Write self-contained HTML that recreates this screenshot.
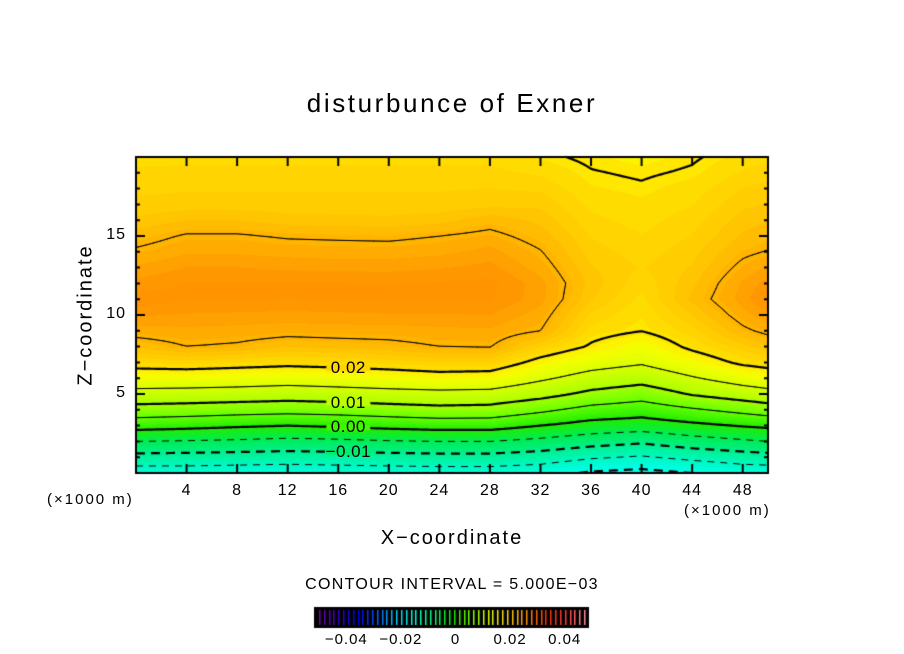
<!DOCTYPE html>
<html><head><meta charset="utf-8"><style>
html,body{margin:0;padding:0;background:#fff;}
#root{position:relative;width:904px;height:654px;overflow:hidden;font-family:"Liberation Sans",sans-serif;color:#000;}
.t{position:absolute;white-space:nowrap;}
canvas{position:absolute;left:0;top:0;}
</style></head><body>
<div id="root">
<canvas id="cv" width="904" height="654"></canvas>
<div class="t" style="left:0;width:904px;text-align:center;top:88px;font-size:26px;letter-spacing:2.6px;">disturbunce of Exner</div>
<div class="t" style="left:86px;top:315px;font-size:20px;transform:translate(-50%,-50%) rotate(-90deg);letter-spacing:2px;">Z−coordinate</div>
<div class="t" style="left:0;width:904px;text-align:center;top:527px;font-size:20px;letter-spacing:2px;">X−coordinate</div>
<div class="t" style="left:47px;top:491px;font-size:15px;letter-spacing:2px;">(×1000 m)</div>
<div class="t" style="left:684px;top:502px;font-size:15px;letter-spacing:2px;">(×1000 m)</div>
<div class="t" style="left:0;width:904px;text-align:center;top:576px;font-size:16px;letter-spacing:1.3px;">CONTOUR INTERVAL = 5.000E−03</div>
<div id="labels"></div>
</div>
<script>
// Grid data (values ×1e-3), rows = z (km), cols = x (km)
const xKm = [0,4,8,12,16,20,24,28,32,36,40,44,48,50];
const zKm = [0,1,2,3,4,5,6,7,8,9,10,11,12,13,14,15,16,17,18,19,20];
const field = [
[-17.7,-17.6,-17.9,-18.2,-17.9,-17.6,-17.4,-17.4,-18.2,-20.6,-21.5,-20,-18.2,-18.1],
[-11.6,-11.8,-12.1,-12.4,-12.1,-11.8,-11.5,-11.5,-12.4,-14.4,-15.5,-13.75,-12.4,-11.9],
[-5,-5.3,-5.7,-6.25,-5.9,-5.3,-5,-5,-6.25,-7.9,-9.2,-7.1,-5.7,-5],
[1.9,1.3,0.6,0,0.6,1.3,1.9,1.9,0,-1.8,-2.5,-1.1,0.3,0.9],
[8.1,7.7,7.1,6.7,7.1,7.9,8.6,8.3,6,3.4,2.3,4.4,6.4,7.5],
[13.5,13.3,13,12.5,13,13.5,13.8,13.6,11.7,8.9,7.2,10.4,12.5,13.5],
[17.9,17.8,17.5,17.1,17.5,18,18.6,18.3,15.7,13.3,11.9,14.6,17.1,17.9],
[21.3,21.7,21.3,20.9,21.2,21.6,22.1,22.1,19,16.8,15.5,18.2,20.6,21.2],
[23.9,25,24.7,23.8,24.1,24.4,25,25.1,22.1,19.7,17.9,20.6,22.6,23.6],
[25.8,26,25.9,25.7,25.8,25.8,26,26.1,25,20.9,20.05,21.7,24.6,25.5],
[27.2,27,26.9,26.8,26.9,27,27,27.1,25.8,21.9,20.5,22.9,25.8,26.9],
[28.5,28,28,27.9,28,28,28,28,26.6,23,21,24,26.7,28.2],
[27.4,28,28,28,28,27.9,28,28.2,26.6,23.4,21.5,23.5,26.4,27.5],
[26.4,27.1,27.1,26.9,26.8,26.8,27,27.4,25.8,23,22,23,25.5,26.4],
[25.3,26.1,26.1,25.9,25.8,25.8,26,26.6,25.1,22.5,21.6,22.6,24.6,25.1],
[24.2,25.2,25.2,24.8,24.7,24.6,25,25.5,24.3,22,21.3,22.1,23.9,24.4],
[23.1,23.75,23.75,23.3,23.2,23.1,23.4,24.3,23.5,21.5,20.9,21.7,23.3,23.7],
[22.3,22.4,22.4,22.4,22.4,22.4,22.4,22.6,22.7,21,20.6,21.2,22.7,23],
[21.9,22,22,22,22,22,22,22.1,21.9,20.5,20.2,20.8,22.1,22.4],
[21.4,21.5,21.5,21.5,21.5,21.5,21.5,21.5,21.1,20.1,19.8,20.2,21.4,21.7],
[21,21,21,21,21,21,21,21,20.3,19.7,19.3,19.8,20.7,21]
];
const solidLevels = [0,5,10,15,20,25];
const dashedLevels = [-20,-15,-10,-5];
const labeledLevels = [20,10,0,-10];
const labelTexts = ["0.02","0.01","0.00","−0.01"];
const xTicks = [4,8,12,16,20,24,28,32,36,40,44,48];
const zTicks = [5,10,15];
const cbLabels = ["−0.04","−0.02","0","0.02","0.04"];
const cbValues = [-0.04,-0.02,0,0.02,0.04];

const X0=136,X1=768,Y0=157,Y1=473, XMAX=50, ZMAX=20;
const sx = x => X0 + (x/XMAX)*(X1-X0);
const sy = z => Y1 - (z/ZMAX)*(Y1-Y0);
function idx(arr,v){let i=0;while(i<arr.length-2&&v>arr[i+1])i++;return i;}
function val(x,z){
  const i=idx(xKm,x), j=idx(zKm,z);
  const tx=Math.max(0,Math.min(1,(x-xKm[i])/(xKm[i+1]-xKm[i])));
  const tz=Math.max(0,Math.min(1,(z-zKm[j])/(zKm[j+1]-zKm[j])));
  const a=field[j][i],b=field[j][i+1],c=field[j+1][i],d=field[j+1][i+1];
  return (a*(1-tx)+b*tx)*(1-tz)+(c*(1-tx)+d*tx)*tz;
}
const stops=[[-25,[0,255,255]],[-20,[0,255,236]],[-15,[0,248,192]],[-10,[0,240,140]],[-5,[0,236,80]],[0,[34,236,0]],[5,[100,255,0]],[10,[168,255,0]],[15,[216,255,0]],[18,[244,255,0]],[19.5,[255,238,0]],[21,[255,218,0]],[23,[255,200,0]],[25,[255,180,0]],[26.5,[255,163,0]],[27.5,[255,152,0]],[30,[255,136,0]]];
function col(v){
  v=Math.round(v*1.2)/1.2;
  if(v<=stops[0][0])return stops[0][1];
  for(let k=0;k<stops.length-1;k++){
    if(v<=stops[k+1][0]){const t=(v-stops[k][0])/(stops[k+1][0]-stops[k][0]);
      return stops[k][1].map((c,n)=>Math.round(c+(stops[k+1][1][n]-c)*t));}
  }
  return stops[stops.length-1][1];
}
const cv=document.getElementById('cv'),ctx=cv.getContext('2d');
const img=ctx.createImageData(X1-X0,Y1-Y0);
for(let py=0;py<Y1-Y0;py++)for(let px=0;px<X1-X0;px++){
  const x=(px+0.5)/(X1-X0)*XMAX, z=ZMAX-(py+0.5)/(Y1-Y0)*ZMAX;
  const c=col(val(x,z)); const o=(py*(X1-X0)+px)*4;
  img.data[o]=c[0];img.data[o+1]=c[1];img.data[o+2]=c[2];img.data[o+3]=255;
}
ctx.putImageData(img,X0,Y0);

// solid contours via marching squares on fine grid
const N=2;
ctx.strokeStyle='#000';ctx.lineCap='round';
solidLevels.forEach(L=>{
  ctx.lineWidth=(L%10===0)?2.2:1;
  ctx.beginPath();
  for(let py=Y0;py<Y1;py+=N)for(let px=X0;px<X1;px+=N){
    const P=[[px,py],[px+N,py],[px+N,py+N],[px,py+N]];
    const V=P.map(p=>val((p[0]-X0)/(X1-X0)*XMAX,(Y1-p[1])/(Y1-Y0)*ZMAX));
    const pts=[];
    for(let e=0;e<4;e++){const a=V[e],b=V[(e+1)%4];
      if((a<L)!==(b<L)){const t=(L-a)/(b-a);const p=P[e],q=P[(e+1)%4];pts.push([p[0]+(q[0]-p[0])*t,p[1]+(q[1]-p[1])*t]);}}
    for(let k=0;k+1<pts.length;k+=2){ctx.moveTo(pts[k][0],pts[k][1]);ctx.lineTo(pts[k+1][0],pts[k+1][1]);}
  }
  ctx.stroke();
});
// dashed contours: per-column lowest crossing
ctx.lineCap='butt';
dashedLevels.forEach(L=>{
  ctx.lineWidth=(L%10===0)?2.2:1;
  ctx.setLineDash(L%10===0?[9,6]:[7,6]);
  ctx.beginPath();let on=false;
  for(let px=X0;px<=X1;px++){
    const x=(px-X0)/(X1-X0)*XMAX;let zc=null;
    for(let z=0;z<6;z+=0.02){const a=val(x,z),b=val(x,z+0.02);if((a<L)!==(b<L)){zc=z+0.02*(L-a)/(b-a);break;}}
    if(zc===null){on=false;continue;}
    const y=sy(zc);if(!on){ctx.moveTo(px,y);on=true;}else ctx.lineTo(px,y);
  }
  ctx.stroke();
});
ctx.setLineDash([]);
// contour labels
const labX=16.8;
const labDiv=document.getElementById('labels');
labeledLevels.forEach((L,k)=>{
  let zc=null;for(let z=0;z<12;z+=0.02){const a=val(labX,z),b=val(labX,z+0.02);if((a<L)!==(b<L)){zc=z;break;}}
  if(zc===null)return;
  const y=sy(zc);
  ctx.fillStyle='rgb('+col(val(labX,zc+0.4)).join(',')+')';
  ctx.fillRect(sx(labX)-22,y-3,44,6);
  const d=document.createElement('div');d.className='t';
  
  
  d.style.cssText='left:'+(sx(labX)-30)+'px;width:60px;text-align:center;top:'+(y-10)+'px;font-size:17px;letter-spacing:0.5px;';
  d.textContent=labelTexts[k];labDiv.appendChild(d);
});
// frame & ticks
ctx.strokeStyle='#000';ctx.lineWidth=2;ctx.strokeRect(X0,Y0,X1-X0,Y1-Y0);
ctx.lineWidth=2;ctx.beginPath();
xTicks.forEach(t=>{const x=sx(t);ctx.moveTo(x,Y1);ctx.lineTo(x,Y1-9);ctx.moveTo(x,Y0);ctx.lineTo(x,Y0+9);});
for(let z=1;z<20;z++){const y=sy(z);const len=(z%5===0)?9:4;ctx.moveTo(X0,y);ctx.lineTo(X0+len,y);ctx.moveTo(X1,y);ctx.lineTo(X1-len,y);}
ctx.stroke();
xTicks.forEach(t=>{const d=document.createElement('div');d.className='t';
  
  
  d.style.cssText='left:'+(sx(t)-20)+'px;width:40px;text-align:center;top:482px;font-size:16px;letter-spacing:1px;';d.textContent=t;labDiv.appendChild(d);});
zTicks.forEach(t=>{const d=document.createElement('div');d.className='t';
  
  
  d.style.cssText='left:84px;width:42px;text-align:right;top:'+(sy(t)-10)+'px;font-size:16px;letter-spacing:1px;';d.textContent=t;labDiv.appendChild(d);});
// colorbar
const CB0=315,CB1=588,CBY=608,CBH=19;
ctx.fillStyle='#000';ctx.fillRect(CB0,CBY,CB1-CB0,CBH);
const rainbow=[[120,0,170],[60,0,200],[0,0,230],[0,90,255],[0,200,255],[0,255,220],[0,255,120],[0,240,0],[130,255,0],[230,255,0],[255,210,0],[255,140,0],[255,50,0],[255,60,60],[255,140,150]];
for(let k=0;k<56;k++){const t=k/55;const f=t*(rainbow.length-1);const i=Math.min(rainbow.length-2,Math.floor(f));const u=f-i;
  const c=rainbow[i].map((v,n)=>Math.round(v+(rainbow[i+1][n]-v)*u));
  ctx.fillStyle='rgb('+c.join(',')+')';const x=CB0+4+k*(CB1-CB0-8)/55;ctx.fillRect(Math.round(x),CBY+2,1.5,CBH-4);}
ctx.strokeStyle='#000';ctx.lineWidth=2;ctx.strokeRect(CB0,CBY,CB1-CB0,CBH);
const cbx=v=>CB0+(v+0.05)/0.1*(CB1-CB0)+4;
cbLabels.forEach((s,k)=>{const d=document.createElement('div');d.className='t';
  
  
  d.style.cssText='left:'+(cbx(cbValues[k])-30)+'px;width:60px;text-align:center;top:631px;font-size:15px;letter-spacing:1px;';d.textContent=s;labDiv.appendChild(d);});
</script>
</body></html>
